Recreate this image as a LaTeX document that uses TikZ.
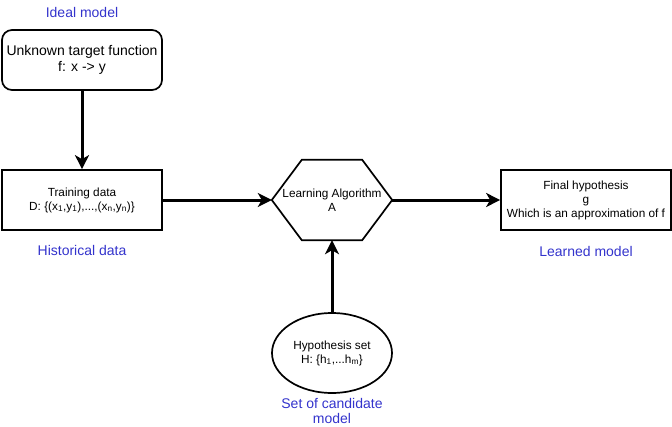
\documentclass[tikz,border=0pt]{standalone}
\usepackage{fontspec}
\setmainfont{Liberation Sans}
\usetikzlibrary{shapes.geometric,arrows.meta}
\definecolor{labelblue}{RGB}{51,51,204}
\begin{document}
\begin{tikzpicture}[x=1pt,y=-1pt,
	box/.style={draw,line width=1.7pt,minimum width=160pt,minimum height=60pt,inner sep=0pt,align=center,font=\fontsize{11.8}{14}\selectfont},
	tag/.style={text=labelblue,align=center,font=\fontsize{14}{15}\selectfont},
	flow/.style={line width=3pt,-{Stealth[length=14pt,width=14pt,inset=4pt]}}]
		\useasboundingbox (0,0) rectangle (672,426);
		
		%target function
		\node (tag1) at (82,12) [tag]{Ideal model};
		\node (target) at (82,60) [box,rounded corners=10pt,font=\fontsize{14}{16}\selectfont]{Unknown target function\\f: x -> y};
		
		%training data
		\node (train) at (82,200) [box]{Training data\\D: \{(x\textsubscript{1},y\textsubscript{1}),...,(x\textsubscript{n},y\textsubscript{n})\}};
		\node (tag2) at (82,250) [tag]{Historical data};
		
		%learning algorithm
		\node (alg) at (332,200) [minimum width=120pt,minimum height=80pt,inner sep=0pt,align=center,font=\fontsize{11.8}{14}\selectfont]{Learning Algorithm\\A};
		\draw[line width=1.7pt] (alg.west) -- ([xshift=30pt]alg.north west) -- ([xshift=-30pt]alg.north east)
			-- (alg.east) -- ([xshift=-30pt]alg.south east) -- ([xshift=30pt]alg.south west) -- cycle;
		
		%final hypothesis
		\node (final) at (586,200) [box,minimum width=170pt]{Final hypothesis\\g\\Which is an approximation of f};
		\node (tag3) at (586,251) [tag]{Learned model};
		
		%hypothesis set
		\node (hyp) at (332,353) [ellipse,draw,line width=1.7pt,minimum width=120pt,minimum height=80pt,inner sep=0pt,align=center,font=\fontsize{11.8}{14}\selectfont]{Hypothesis set\\H: \{h\textsubscript{1},...h\textsubscript{m}\}};
		\node (tag4) at (332,411) [tag]{Set of candidate\\model};
		
		\draw[flow] (target) -- (train);
		\draw[flow] (train) -- (alg.west);
		\draw[flow] (alg.east) -- (final);
		\draw[flow] (hyp) -- (alg.south);
		\end{tikzpicture}
\end{document}
